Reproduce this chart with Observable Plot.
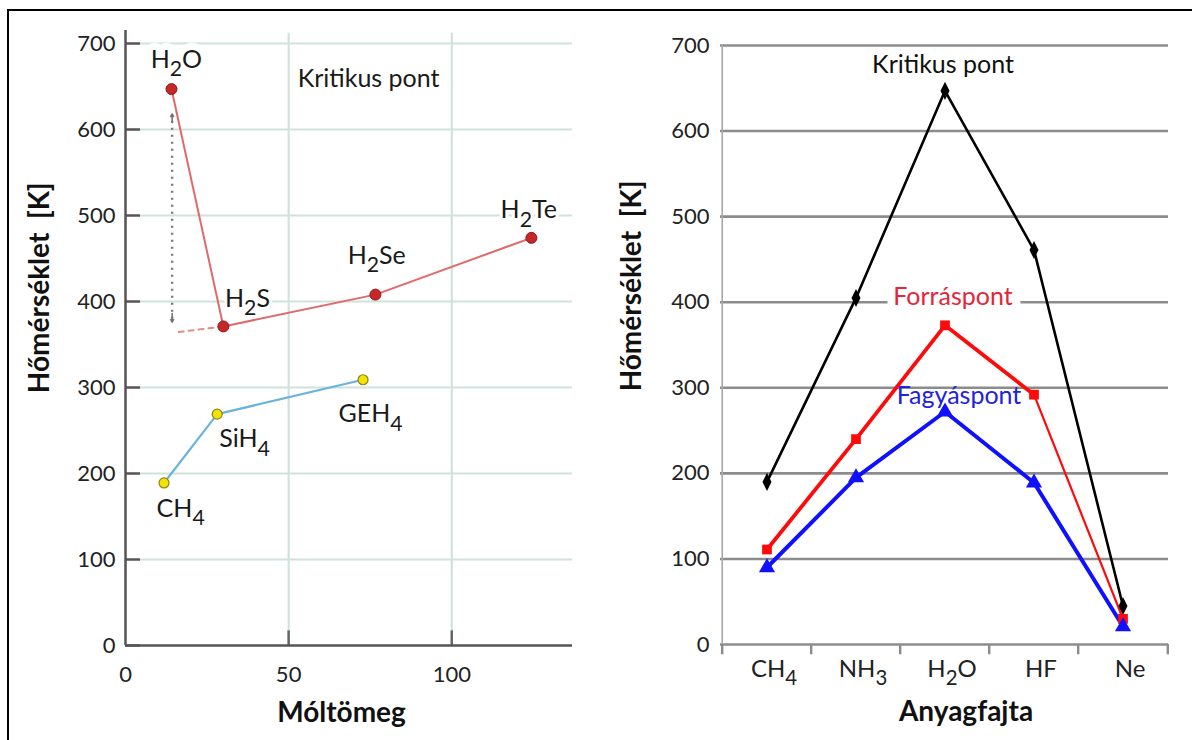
<!DOCTYPE html>
<html>
<head>
<meta charset="utf-8">
<script src="https://cdn.jsdelivr.net/npm/d3@7"></script>
<script src="https://cdn.jsdelivr.net/npm/@observablehq/plot@0.6"></script>
<style>
  html, body { margin: 0; padding: 0; background: #fff; }
  #wrap { position: relative; width: 1192px; height: 740px; overflow: hidden; font-family: Lato, sans-serif; }
  #frame { position: absolute; left: 7px; top: 9px; width: 1200px; height: 800px; border-left: 2.5px solid #000; border-top: 2.5px solid #000; }
  #left { position: absolute; left: 0; top: 0; }
  #right { position: absolute; left: 600px; top: 0; }
  svg { overflow: visible; }
</style>
</head>
<body>
<div id="wrap">
  <div id="frame"></div>
  <div id="left"></div>
  <div id="right"></div>
</div>
<script>
// ---------- Left panel data (Kritikus pont vs Móltömeg) ----------
const leftTicksY = [0, 100, 200, 300, 400, 500, 600, 700];
const leftTicksX = [0, 50, 100];
const critNames = ["H_2O", "H_2S", "H_2Se", "H_2Te"];
const critMass = [14.1, 30, 76.6, 124.4];
const critTemp = [647, 371, 408, 474];
const hydNames = ["CH_4", "SiH_4", "GEH_4"];
const hydMass = [11.8, 28.1, 72.8];
const hydTemp = [189, 269, 309];
const extMass = [30, 15.3];       // dashed extrapolation from H2S
const extTemp = [371, 364];
const gapMass = 14.3;             // dotted double arrow
const gapLow = 376, gapHigh = 618;
const leftLabels = ["H_2O", "Kritikus pont", "H_2S", "H_2Se", "H_2Te", "CH_4", "SiH_4", "GEH_4"];
const leftLabelX = [15.6, 74.5, 37.4, 77, 123.6, 16.9, 36.5, 75.1];
const leftLabelY = [681, 659, 403, 453, 506, 159, 240, 269];

// ---------- Right panel data (Anyagfajta) ----------
const rightTicksY = [0, 100, 200, 300, 400, 500, 600, 700];
const species = ["CH_4", "NH_3", "H_2O", "HF", "Ne"];
const critical = [190, 405, 647, 461, 45];
const boiling = [111, 240, 373, 292, 30];
const melting = [90, 195, 272, 189, 21];
const seriesLabels = ["Kritikus pont", "Forráspont", "Fagyáspont"];
const seriesLabelY = [677, 406, 290];

// ---------- helpers ----------
const NS = "http://www.w3.org/2000/svg";
function subscripts(svg) {
  svg.querySelectorAll("text").forEach(t => {
    const targets = t.querySelectorAll("tspan").length ? Array.from(t.querySelectorAll("tspan")) : [t];
    targets.forEach(el => {
      const s = el.textContent;
      if (!s.includes("_")) return;
      el.textContent = "";
      const parts = s.split(/_(\d)/);
      parts.forEach((p, i) => {
        if (!p) return;
        const ts = document.createElementNS(NS, "tspan");
        ts.textContent = p;
        if (i % 2 === 1) { ts.setAttribute("font-size", "85%"); ts.setAttribute("dy", "0.4em"); }
        else if (i > 0) { ts.setAttribute("dy", "-0.34em"); }
        el.appendChild(ts);
      });
    });
  });
  return svg;
}
const tallDiamond = {
  draw(ctx, size) {
    const r = Math.sqrt(size) / 2;
    ctx.moveTo(0, -r * 1.7); ctx.lineTo(r * 0.85, 0); ctx.lineTo(0, r * 1.7); ctx.lineTo(-r * 0.85, 0); ctx.closePath();
  }
};

// ---------- Left plot ----------
const crit = critNames.map((n, i) => ({name: n, m: critMass[i], t: critTemp[i]}));
const hyd = hydNames.map((n, i) => ({name: n, m: hydMass[i], t: hydTemp[i]}));
const ext = extMass.map((m, i) => ({m, t: extTemp[i]}));
const lbl = leftLabels.map((n, i) => ({name: n, m: leftLabelX[i], t: leftLabelY[i]}));
const gridColor = "#cfe3da";
const axisColor = "#555";
const weight = d => d.name === "H_2S" ? "bold" : "normal";

const left = Plot.plot({
  width: 600, height: 740,
  marginLeft: 125, marginRight: 28, marginTop: 43, marginBottom: 95,
  x: {domain: [0, 137]},
  y: {domain: [0, 700]},
  style: {fontFamily: "Lato, sans-serif", fontSize: "22px", color: "#222", background: "transparent", overflow: "visible"},
  marks: [
    Plot.ruleY(leftTicksY.filter(d => d > 0), {x1: 4.6, x2: 137, stroke: gridColor, strokeWidth: 2.2}),
    Plot.ruleX(leftTicksX.filter(d => d > 0), {y1: 0, y2: 712, stroke: gridColor, strokeWidth: 2.2}),
    Plot.ruleX(leftTicksX.filter(d => d > 0), {y1: 0, y2: 17, stroke: "#666", strokeWidth: 2.5}),
    Plot.ruleY(leftTicksY, {x1: 0, x2: 4.6, stroke: axisColor, strokeWidth: 2.5}),
    Plot.ruleX([0], {y1: 0, y2: 715, stroke: axisColor, strokeWidth: 2.5}),
    Plot.ruleY([0], {x1: 0, x2: 137, stroke: axisColor, strokeWidth: 2.5}),
    Plot.axisY(leftTicksY, {tickSize: 0, tickPadding: 10, fontSize: 22, label: null, fill: "#222"}),
    Plot.axisX(leftTicksX, {tickSize: 0, tickPadding: 21, fontSize: 22, label: null, fill: "#222"}),
    // white halo behind labels (they interrupt the grid)
    Plot.text(lbl, {x: "m", y: "t", text: "name", fontSize: 25, fontWeight: weight, fill: "white",
      stroke: "white", strokeWidth: d => d.name === "H_2O" ? 14 : 6}),
    // lines
    Plot.line(ext, {x: "m", y: "t", stroke: "#e88a8a", strokeWidth: 2, strokeDasharray: "5,5"}),
    Plot.line(crit, {x: "m", y: "t", stroke: "#e06a6a", strokeWidth: 2}),
    Plot.line(hyd, {x: "m", y: "t", stroke: "#6ab4dc", strokeWidth: 2.2}),
    Plot.link([{m: gapMass, lo: gapLow + 4, hi: gapHigh - 4}], {x1: "m", x2: "m", y1: "lo", y2: "hi", stroke: "#777", strokeWidth: 2.4, strokeDasharray: "2,5"}),
    Plot.arrow([{m: gapMass, a: gapLow + 10, b: gapLow}, {m: gapMass, a: gapHigh - 10, b: gapHigh}],
      {x1: "m", x2: "m", y1: "a", y2: "b", stroke: "#777", strokeWidth: 1.6, headLength: 9, bend: 0}),
    Plot.dot(crit, {x: "m", y: "t", r: 5.5, fill: "#c8272a", stroke: "#8a1a1a", strokeWidth: 1}),
    Plot.dot(hyd, {x: "m", y: "t", r: 5, fill: "#f2e300", stroke: "#8a8420", strokeWidth: 1.2}),
    Plot.text(lbl, {x: "m", y: "t", text: "name", fontSize: 25, fontWeight: weight, fill: "#1a1a1a"}),
    // axis titles
    Plot.text(["Móltömeg"], {frameAnchor: "bottom", x: [66.2], dy: 68, fontSize: 28, fontWeight: "bold", fill: "#111", textAnchor: "middle", lineAnchor: "middle"}),
    Plot.text(["Hőmérséklet\u00a0\u00a0[K]"], {frameAnchor: "left", y: [416], dx: -85, rotate: -90, fontSize: 28, fontWeight: "bold", fill: "#111", textAnchor: "middle", lineAnchor: "middle"})
  ]
});
document.getElementById("left").appendChild(subscripts(left));

// ---------- Right plot ----------
const rows = species.map((s, i) => ({s, c: critical[i], b: boiling[i], m: melting[i]}));
const bw = (592 - 120 - 24) / species.length;
const rgrid = "#8c8c8c";
const right = Plot.plot({
  width: 592, height: 740,
  marginLeft: 120, marginRight: 24, marginTop: 45, marginBottom: 96,
  x: {type: "band", domain: species, padding: 0},
  y: {domain: [0, 700]},
  style: {fontFamily: "Lato, sans-serif", fontSize: "22px", color: "#222", background: "transparent", overflow: "visible"},
  marks: [
    Plot.ruleY(rightTicksY, {stroke: rgrid, strokeWidth: 2.6}),
    Plot.ruleX([species[0]], {dx: -bw / 2, y1: 0, y2: 700, stroke: "#a8a8a8", strokeWidth: 1.6}),
    Plot.ruleX(species, {dx: -bw / 2, y1: 0, y2: -12, stroke: rgrid, strokeWidth: 2.4}),
    Plot.ruleX([species[species.length - 1]], {dx: bw / 2, y1: 0, y2: -12, stroke: rgrid, strokeWidth: 2.4}),
    Plot.axisY(rightTicksY, {tickSize: 0, tickPadding: 11, fontSize: 22, label: null, fill: "#222"}),
    Plot.axisX({tickSize: 0, tickPadding: 15, dx: 7, fontSize: 24, label: null, fill: "#222"}),
    Plot.text([seriesLabels[1]], {x: [species[2]], y: [seriesLabelY[1]], dx: 8, fontSize: 25, fill: "white", stroke: "white", strokeWidth: 16}),
    Plot.line(rows, {x: "s", y: "c", stroke: "#000", strokeWidth: 2.6}),
    Plot.line(rows.slice(0, 4), {x: "s", y: "b", stroke: "#ff0a0a", strokeWidth: 3.8}),
    Plot.line(rows.slice(3), {x: "s", y: "b", stroke: "#ff0a0a", strokeWidth: 2.2}),
    Plot.line(rows, {x: "s", y: "m", stroke: "#1010ff", strokeWidth: 4}),
    Plot.dot(rows, {x: "s", y: "c", symbol: tallDiamond, r: 6, fill: "#000"}),
    Plot.dot(rows, {x: "s", y: "b", symbol: "square", r: 5.5, fill: "#ff0a0a"}),
    Plot.dot(rows, {x: "s", y: "m", symbol: "triangle", r: 6, fill: "#1010ff"}),
    Plot.text([seriesLabels[0]], {x: [species[2]], y: [seriesLabelY[0]], dx: -2, fontSize: 25, fill: "#111"}),
    Plot.text([seriesLabels[1]], {x: [species[2]], y: [seriesLabelY[1]], dx: 8, fontSize: 25, fill: "#e3263a"}),
    Plot.text([seriesLabels[2]], {x: [species[2]], y: [seriesLabelY[2]], dx: 14, fontSize: 25, fill: "#2222dd"}),
    Plot.text(["Anyagfajta"], {frameAnchor: "bottom", x: [species[2]], dx: 21, dy: 68, fontSize: 28, fontWeight: "bold", fill: "#111", textAnchor: "middle", lineAnchor: "middle"}),
    Plot.text(["Hőmérséklet\u00a0\u00a0[K]"], {frameAnchor: "left", y: [419], dx: -88, rotate: -90, fontSize: 28, fontWeight: "bold", fill: "#111", textAnchor: "middle", lineAnchor: "middle"})
  ]
});
document.getElementById("right").appendChild(subscripts(right));
</script>
</body>
</html>
